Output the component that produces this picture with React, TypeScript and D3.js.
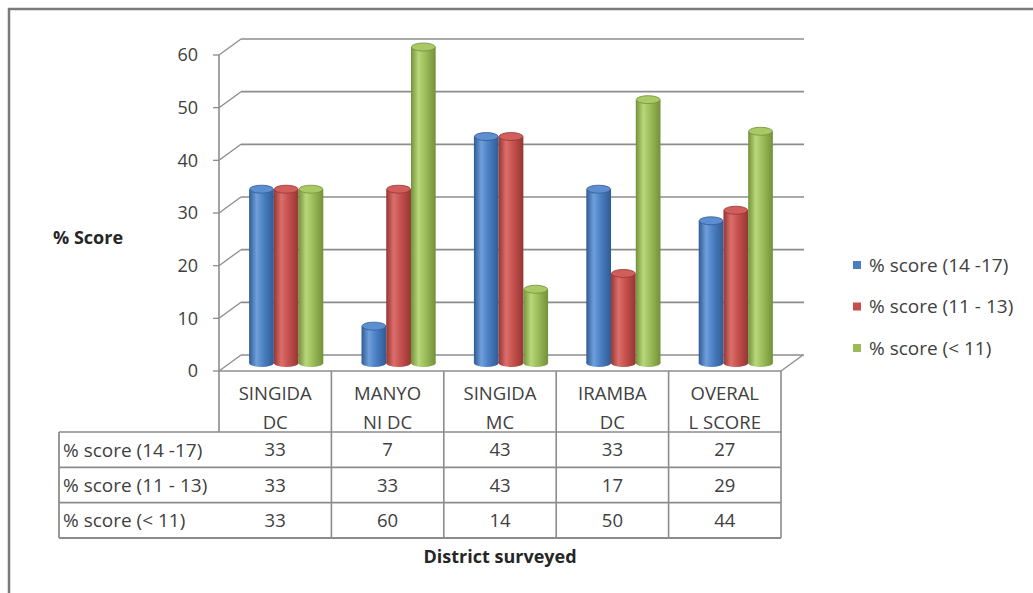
import React, { useEffect, useRef } from 'react';
import * as d3 from 'd3';

// categories as shown in the table header (two lines each)
const districts = ['SINGIDA DC', 'MANYONI DC', 'SINGIDA MC', 'IRAMBA DC', 'OVERALL SCORE'];
const districtLines = [
  ['SINGIDA', 'DC'],
  ['MANYO', 'NI DC'],
  ['SINGIDA', 'MC'],
  ['IRAMBA', 'DC'],
  ['OVERAL', 'L SCORE'],
];
const seriesNames = ['% score (14 -17)', '% score (11 - 13)', '% score (< 11)'];
const score1417 = [33, 7, 43, 33, 27];
const score1113 = [33, 33, 43, 17, 29];
const scoreUnder11 = [33, 60, 14, 50, 44];
const yTicks = [0, 10, 20, 30, 40, 50, 60];

const seriesColors = [
  { base: '#4a7ebf', dark: '#2f5b94', light: '#6f9fdc', top: '#5d8fd0' },
  { base: '#c4504d', dark: '#943633', light: '#dc6e6b', top: '#d25e5b' },
  { base: '#9bbb59', dark: '#739138', light: '#b8d77a', top: '#a9c866' },
];

const FONT = "'Open Sans', 'DejaVu Sans', sans-serif";
const TEXT = '#404040';
const GRID = '#8c8c8c';

const App: React.FC = () => {
  const svgRef = useRef<SVGSVGElement>(null);

  useEffect(() => {
    const svg = d3.select(svgRef.current);
    svg.selectAll('*').remove();

    const values = [score1417, score1113, scoreUnder11];

    // plot geometry
    const left = 219, right = 781, bottom = 371, top = 55;
    const depthX = 22, depthY = -16;

    const x0 = d3.scaleBand<string>().domain(districts).range([left, right]).padding(0);
    const groupW = x0.bandwidth() * 0.66;
    const x1 = d3.scaleBand<string>().domain(seriesNames).range([0, groupW]).padding(0);
    const y = d3.scaleLinear().domain([0, 60]).range([bottom, top]);

    const defs = svg.append('defs');
    seriesColors.forEach((c, i) => {
      const g = defs.append('linearGradient')
        .attr('id', `cyl-${i}`)
        .attr('x1', '0%').attr('x2', '100%').attr('y1', '0%').attr('y2', '0%');
      g.append('stop').attr('offset', '0%').attr('stop-color', c.dark);
      g.append('stop').attr('offset', '30%').attr('stop-color', c.light);
      g.append('stop').attr('offset', '60%').attr('stop-color', c.base);
      g.append('stop').attr('offset', '100%').attr('stop-color', c.dark);
    });

    // outer frame
    svg.append('rect')
      .attr('x', 9).attr('y', 9).attr('width', 1040).attr('height', 600)
      .attr('fill', '#fff').attr('stroke', '#7a7a7a').attr('stroke-width', 2.5);

    // back wall gridlines + side wall diagonals
    yTicks.forEach(t => {
      svg.append('line')
        .attr('x1', left + depthX).attr('x2', right + depthX + 1)
        .attr('y1', y(t) + depthY).attr('y2', y(t) + depthY)
        .attr('stroke', GRID).attr('stroke-width', 1.6);
      svg.append('line')
        .attr('x1', left).attr('y1', y(t))
        .attr('x2', left + depthX).attr('y2', y(t) + depthY)
        .attr('stroke', GRID).attr('stroke-width', 1.3);
      // tick mark
      svg.append('line')
        .attr('x1', left - 6).attr('x2', left)
        .attr('y1', y(t)).attr('y2', y(t))
        .attr('stroke', GRID).attr('stroke-width', 1.3);
      svg.append('text')
        .attr('x', 198).attr('y', y(t))
        .attr('dy', '0.36em')
        .attr('text-anchor', 'end')
        .style('font-family', FONT).style('font-size', '18px')
        .style('fill', TEXT)
        .text(t);
    });

    // floor right edge
    svg.append('line')
      .attr('x1', right).attr('y1', bottom)
      .attr('x2', right + depthX).attr('y2', bottom + depthY)
      .attr('stroke', GRID).attr('stroke-width', 1.3);

    // vertical front axis
    svg.append('line')
      .attr('x1', left).attr('x2', left)
      .attr('y1', top).attr('y2', 432)
      .attr('stroke', GRID).attr('stroke-width', 1.6);

    // cylinders
    const ry = 4;
    values.forEach((vals, si) => {
      vals.forEach((v, ci) => {
        const cx0 = (x0(districts[ci]) || 0) + x0.bandwidth() / 2 - groupW / 2 + depthX / 2;
        const bx = cx0 + (x1(seriesNames[si]) || 0);
        const bw = x1.bandwidth();
        const yb = y(0) + depthY / 2;
        const yt = y(v) + depthY / 2;
        const g = svg.append('g');
        g.append('ellipse')
          .attr('cx', bx + bw / 2).attr('cy', yb)
          .attr('rx', bw / 2).attr('ry', ry)
          .attr('fill', `url(#cyl-${si})`);
        g.append('rect')
          .attr('x', bx).attr('y', yt)
          .attr('width', bw).attr('height', Math.max(0, yb - yt))
          .attr('fill', `url(#cyl-${si})`);
        g.append('ellipse')
          .attr('cx', bx + bw / 2).attr('cy', yt)
          .attr('rx', bw / 2 - 0.5).attr('ry', ry)
          .attr('fill', seriesColors[si].top)
          .attr('stroke', seriesColors[si].dark).attr('stroke-width', 0.8);
      });
    });

    // floor front edge / table top
    svg.append('line')
      .attr('x1', left).attr('x2', right)
      .attr('y1', bottom).attr('y2', bottom)
      .attr('stroke', GRID).attr('stroke-width', 1.6);

    // data table
    const tableLeft = 59;
    const rowY = d3.scaleBand<string>().domain(seriesNames).range([432, 538]).padding(0);
    const tableBottom = 538;

    // column dividers
    districts.forEach(d => {
      svg.append('line')
        .attr('x1', (x0(d) || 0) + x0.bandwidth()).attr('x2', (x0(d) || 0) + x0.bandwidth())
        .attr('y1', bottom).attr('y2', tableBottom)
        .attr('stroke', GRID).attr('stroke-width', 1.6);
    });
    // row lines
    seriesNames.forEach(s => {
      svg.append('line')
        .attr('x1', tableLeft).attr('x2', right)
        .attr('y1', rowY(s) || 0).attr('y2', rowY(s) || 0)
        .attr('stroke', GRID).attr('stroke-width', 1.6);
    });
    svg.append('line')
      .attr('x1', tableLeft).attr('x2', right)
      .attr('y1', tableBottom).attr('y2', tableBottom)
      .attr('stroke', GRID).attr('stroke-width', 1.8);
    svg.append('line')
      .attr('x1', tableLeft).attr('x2', tableLeft)
      .attr('y1', 432).attr('y2', tableBottom)
      .attr('stroke', GRID).attr('stroke-width', 1.8);

    // header text
    districtLines.forEach((lines, ci) => {
      const cx = (x0(districts[ci]) || 0) + x0.bandwidth() / 2;
      lines.forEach((ln, li) => {
        svg.append('text')
          .attr('x', cx).attr('y', 393 + li * 29)
          .attr('dy', '0.36em')
          .attr('text-anchor', 'middle')
          .style('font-family', FONT).style('font-size', '18.5px')
          .style('fill', TEXT)
          .text(ln);
      });
    });

    // row labels + values
    seriesNames.forEach((s, si) => {
      const cy = (rowY(s) || 0) + rowY.bandwidth() / 2;
      svg.append('text')
        .attr('x', 63).attr('y', cy)
        .attr('dy', '0.36em')
        .style('font-family', FONT).style('font-size', '19px')
        .style('fill', TEXT)
        .text(s);
      values[si].forEach((v, ci) => {
        svg.append('text')
          .attr('x', (x0(districts[ci]) || 0) + x0.bandwidth() / 2).attr('y', cy)
          .attr('dy', '0.36em')
          .attr('text-anchor', 'middle')
          .style('font-family', FONT).style('font-size', '18.5px')
          .style('fill', TEXT)
          .text(v);
      });
    });

    // axis titles
    svg.append('text')
      .attr('x', 53).attr('y', 238)
      .attr('dy', '0.36em')
      .style('font-family', FONT).style('font-size', '18px').style('font-weight', 'bold')
      .style('fill', '#262626')
      .text('% Score');
    svg.append('text')
      .attr('x', (left + right) / 2).attr('y', 557)
      .attr('dy', '0.36em')
      .attr('text-anchor', 'middle')
      .style('font-family', FONT).style('font-size', '18px').style('font-weight', 'bold')
      .style('fill', '#262626')
      .text('District surveyed');

    // legend
    const legY = d3.scalePoint<string>().domain(seriesNames).range([265, 348]);
    seriesNames.forEach((s, si) => {
      const ly = legY(s) || 0;
      svg.append('rect')
        .attr('x', 853).attr('y', ly - 4).attr('width', 8).attr('height', 8)
        .attr('fill', seriesColors[si].base);
      svg.append('text')
        .attr('x', 869).attr('y', ly)
        .attr('dy', '0.36em')
        .style('font-family', FONT).style('font-size', '19px')
        .style('fill', TEXT)
        .text(s);
    });
  }, []);

  return (
    <svg
      ref={svgRef}
      width={1033}
      height={593}
      style={{ position: 'absolute', left: 0, top: 0, background: '#fff' }}
    />
  );
};

export default App;
